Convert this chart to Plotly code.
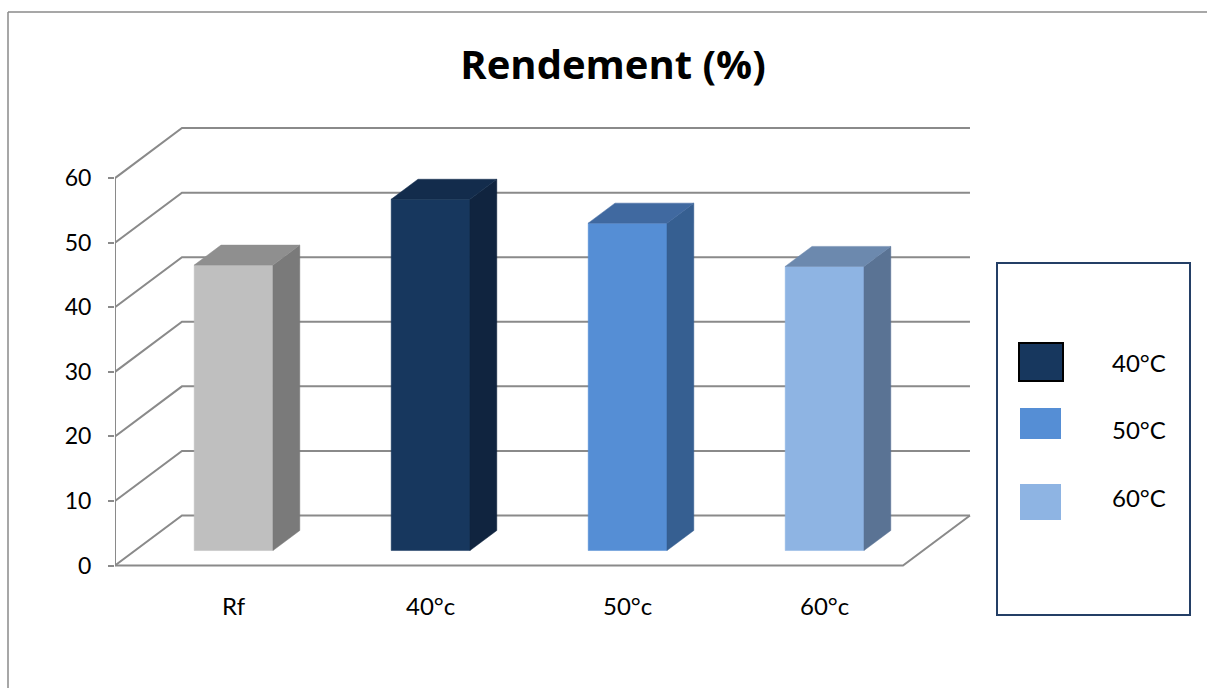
import plotly.graph_objects as go

# Yield per drying temperature
categories = ["Rf", "40°c", "50°c", "60°c"]
rendement = [44.2, 54.4, 50.7, 44.0]

# Face colours of each 3D column: front, top, right side
front_colors = ["#BFBFBF", "#17375E", "#558ED5", "#8EB4E3"]
top_colors = ["#8F8F8F", "#132C4C", "#4069A0", "#6C89AE"]
side_colors = ["#7A7A7A", "#10243F", "#365F91", "#5A7394"]

legend_labels = ["40°C", "50°C", "60°C"]
legend_colors = ["#17375E", "#558ED5", "#8EB4E3"]

y_ticks = [0, 10, 20, 30, 40, 50, 60]

FONT = "Lato"
GRID = "#8A8A8A"

# Oblique depth projection (in data units) and column placement
DX, DY = 0.34, 7.75          # full depth offset along x and y
Z0, Z1 = 0.3, 0.7            # depth span of each column
W0, W1 = 0.3, 0.7            # width span inside each category slot
N = len(categories)

# Plot-area pixel geometry (used for paper-referenced decorations)
W, H = 1207, 688
ML, MR, MT, MB = 115, 227, 120, 116
PX0, PX1 = ML, W - MR
PY0, PY1 = MT, H - MB


def px(x):
    return (x - PX0) / (PX1 - PX0)


def py(y):
    return (PY1 - y) / (PY1 - PY0)


fig = go.Figure()

# Walls, floor and front value axis
gx, gy = [], []
for v in y_ticks:
    gx += [0, DX, N + DX, None]
    gy += [v, v + DY, v + DY, None]
gx += [0, N, N + DX, None]
gy += [0, 0, DY, None]
gx += [0, 0]
gy += [0, y_ticks[-1]]
fig.add_trace(go.Scatter(x=gx, y=gy, mode="lines",
                         line=dict(color=GRID, width=2),
                         hoverinfo="skip", showlegend=False))


def face(xs, ys, color):
    fig.add_trace(go.Scatter(x=xs + [xs[0]], y=ys + [ys[0]], mode="lines",
                             fill="toself", fillcolor=color,
                             line=dict(color=color, width=0.5),
                             hoverinfo="skip", showlegend=False))


for i, v in enumerate(rendement):
    x0, x1 = i + W0, i + W1
    fx0, fx1 = x0 + Z0 * DX, x1 + Z0 * DX
    bx0, bx1 = x0 + Z1 * DX, x1 + Z1 * DX
    fy, by = Z0 * DY, Z1 * DY
    # front
    face([fx0, fx1, fx1, fx0], [fy, fy, v + fy, v + fy], front_colors[i])
    # right side
    face([fx1, bx1, bx1, fx1], [fy, by, v + by, v + fy], side_colors[i])
    # top
    face([fx0, fx1, bx1, bx0], [v + fy, v + fy, v + by, v + by], top_colors[i])

shapes = []
# chart-area border
shapes.append(dict(type="line", xref="paper", yref="paper",
                   x0=px(8), x1=px(8), y0=py(12), y1=py(700),
                   line=dict(color=GRID, width=1.5)))
shapes.append(dict(type="line", xref="paper", yref="paper",
                   x0=px(8), x1=px(1215), y0=py(12), y1=py(12),
                   line=dict(color=GRID, width=1.5)))
# legend box
shapes.append(dict(type="rect", xref="paper", yref="paper",
                   x0=px(997), x1=px(1190), y0=py(263), y1=py(615),
                   line=dict(color="#243F66", width=2), fillcolor="white"))

swatches = [(1019, 1063, 343, 381), (1020, 1061, 408, 439), (1020, 1061, 484, 520)]
text_y = [362, 429, 497]
annotations = []
for k, (lab, col) in enumerate(zip(legend_labels, legend_colors)):
    sx0, sx1, sy0, sy1 = swatches[k]
    shapes.append(dict(type="rect", xref="paper", yref="paper",
                       x0=px(sx0), x1=px(sx1), y0=py(sy0), y1=py(sy1),
                       fillcolor=col,
                       line=dict(color="black" if k == 0 else col,
                                 width=2 if k == 0 else 0)))
    annotations.append(dict(xref="paper", yref="paper", x=px(1139), y=py(text_y[k]),
                            text=lab, showarrow=False, xanchor="center", yanchor="middle",
                            font=dict(family=FONT, size=24, color="black")))

fig.update_layout(
    width=W, height=H,
    margin=dict(l=ML, r=MR, t=MT, b=MB),
    paper_bgcolor="white", plot_bgcolor="white",
    showlegend=False,
    title=dict(text="<b>Rendement (%)</b>", x=613 / W, y=1 - 65 / H,
               xanchor="center", yanchor="middle",
               font=dict(family="Open Sans", size=40, color="black")),
    xaxis=dict(range=[0, (PX1 - PX0) / 197.0], showgrid=False, zeroline=False,
               showline=False, ticks="",
               tickvals=[i + 0.5 + Z0 * DX for i in range(N)], ticktext=categories,
               ticklabelstandoff=18,
               tickfont=dict(family=FONT, size=24, color="black")),
    yaxis=dict(range=[-1, 69], showgrid=False, zeroline=False, showline=False,
               tickvals=y_ticks, ticks="outside", ticklen=6, tickwidth=2,
               tickcolor=GRID, ticklabelstandoff=12,
               tickfont=dict(family=FONT, size=23, color="black")),
    shapes=shapes,
    annotations=annotations,
)

fig.write_html("out.html")
